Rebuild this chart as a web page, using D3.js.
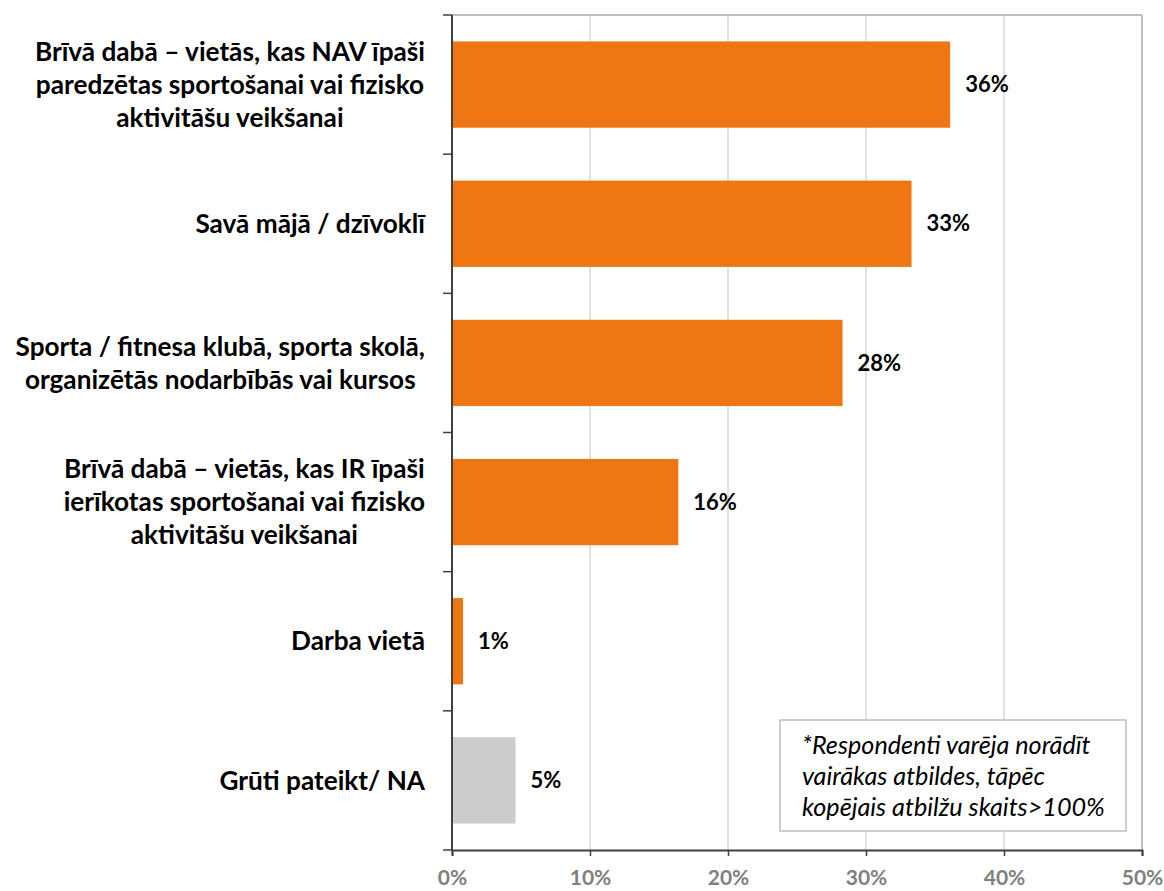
<!DOCTYPE html>
<html>
<head>
<meta charset="utf-8">
<script src="https://cdn.jsdelivr.net/npm/d3@7"></script>
<style>
  html, body { margin: 0; padding: 0; background: #fff; }
  svg { display: block; }
</style>
</head>
<body>
<svg id="chart" width="1164" height="891"></svg>
<script>
// ---- data ----
const categories = [
  ["Brīvā dabā – vietās, kas NAV īpaši", "paredzētas sportošanai vai fizisko", "aktivitāšu veikšanai"],
  ["Savā mājā / dzīvoklī"],
  ["Sporta / fitnesa klubā, sporta skolā,", "organizētās nodarbībās vai kursos"],
  ["Brīvā dabā – vietās, kas IR īpaši", "ierīkotas sportošanai vai fizisko", "aktivitāšu veikšanai"],
  ["Darba vietā"],
  ["Grūti pateikt/ NA"]
];
const values = [36.1, 33.3, 28.3, 16.4, 0.8, 4.6];
const valueLabels = ["36%", "33%", "28%", "16%", "1%", "5%"];
const barColors = ["#F07613", "#F07613", "#F07613", "#F07613", "#F07613", "#CCCCCC"];
const xTicks = [0, 10, 20, 30, 40, 50];
const noteLines = ["*Respondenti varēja norādīt", "vairākas atbildes, tāpēc", "kopējais atbilžu skaits>100%"];

(function () {
// ---- layout ----
const pLeft = 452, pRight = 1142, pTop = 15, pBottom = 850;
const FONT = "Lato, sans-serif";

const svg = d3.select("#chart");
const x = d3.scaleLinear().domain([0, 50]).range([pLeft, pRight]);
const ids = categories.map((_, i) => i);
const y = d3.scaleBand().domain(ids).range([pTop, pBottom]).paddingInner(0.38).paddingOuter(0.19);

// grid lines
svg.append("g").selectAll("line").data(xTicks.slice(1)).join("line")
  .attr("x1", d => x(d)).attr("x2", d => x(d))
  .attr("y1", pTop).attr("y2", pBottom)
  .attr("stroke", d => d === 50 ? "#BFBFBF" : "#D9D9D9")
  .attr("stroke-width", d => d === 50 ? 2 : 1.5);
// top border
svg.append("line").attr("x1", pLeft).attr("x2", pRight).attr("y1", pTop).attr("y2", pTop)
  .attr("stroke", "#BFBFBF").attr("stroke-width", 2);

// bars
svg.append("g").selectAll("rect").data(ids).join("rect")
  .attr("x", i => x(0) + (i === 5 ? 1 : 0))
  .attr("y", i => y(i))
  .attr("width", i => x(values[i]) - x(0) - (i === 5 ? 1 : 0))
  .attr("height", y.bandwidth())
  .attr("fill", i => barColors[i]);

// value labels
svg.append("g").selectAll("text").data(ids).join("text")
  .attr("x", i => x(values[i]) + 15)
  .attr("y", i => y(i) + y.bandwidth() / 2)
  .attr("dy", "0.35em")
  .attr("font-family", FONT).attr("font-weight", "bold").attr("font-size", 22)
  .attr("fill", "#000")
  .text(i => valueLabels[i]);

// x axis
const xAxis = d3.axisBottom(x).tickValues(xTicks).tickFormat(d => d + "%").tickSize(6).tickPadding(17);
const gx = svg.append("g").attr("transform", `translate(0,${pBottom})`).call(xAxis);
gx.select(".domain").attr("stroke", "#404040").attr("stroke-width", 2);
gx.selectAll(".tick line").attr("stroke", "#404040").attr("stroke-width", 1.5);
gx.selectAll(".tick text").attr("font-family", FONT).attr("font-weight", "bold")
  .attr("font-size", 21).attr("fill", "#808080").attr("dy", "0.55em");

// y axis line + ticks at band boundaries
const boundaries = d3.range(categories.length + 1).map(i => pTop + i * (pBottom - pTop) / categories.length);
svg.append("line").attr("x1", pLeft).attr("x2", pLeft).attr("y1", pTop).attr("y2", pBottom)
  .attr("stroke", "#404040").attr("stroke-width", 2);
svg.append("g").selectAll("line").data(boundaries).join("line")
  .attr("x1", pLeft - 9).attr("x2", pLeft).attr("y1", d => d).attr("y2", d => d)
  .attr("stroke", "#404040").attr("stroke-width", 1.5);

// category labels: block right aligned, lines centered in block
const labelRight = 425, lineH = 33;
const gl = svg.append("g");
categories.forEach((lines, i) => {
  const cy = y(i) + y.bandwidth() / 2;
  const texts = lines.map((ln, k) => gl.append("text")
    .attr("y", cy + (k - (lines.length - 1) / 2) * lineH)
    .attr("dy", "0.35em")
    .attr("text-anchor", "middle")
    .attr("font-family", FONT).attr("font-weight", "bold").attr("font-size", 26.2)
    .attr("fill", "#000").text(ln));
  const maxW = d3.max(texts, t => t.node().getComputedTextLength());
  texts.forEach(t => t.attr("x", labelRight - maxW / 2));
});

// note box
const note = svg.append("g");
note.append("rect").attr("x", 780).attr("y", 720).attr("width", 346).attr("height", 111)
  .attr("fill", "#fff").attr("stroke", "#BFBFBF").attr("stroke-width", 1.5);
note.selectAll("text").data(noteLines).join("text")
  .attr("x", 802).attr("y", (d, k) => 745 + k * 31).attr("dy", "0.35em")
  .attr("font-family", FONT).attr("font-style", "italic").attr("font-size", 25.2)
  .attr("fill", "#000").text(d => d);
})();
</script>
</body>
</html>
